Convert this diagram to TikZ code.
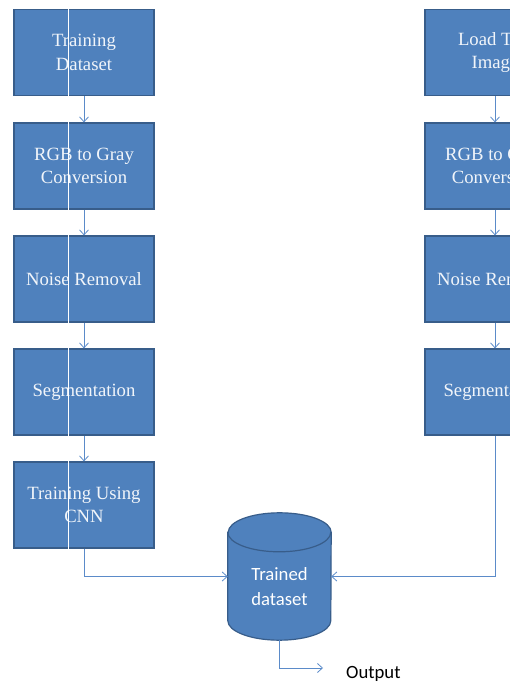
\documentclass[tikz,border=0pt]{standalone}
\usepackage{fontspec}
\setmainfont{Liberation Serif}
\newfontfamily\calibri{Carlito}
\usetikzlibrary{arrows.meta,positioning}
\definecolor{boxblue}{RGB}{79,129,189}
\definecolor{boxedge}{RGB}{56,93,138}
\definecolor{linkblue}{RGB}{91,139,201}
\tikzset{stepbox/.style={draw=boxedge, line width=1.2pt, fill=boxblue, minimum width=140pt, minimum height=86pt, inner sep=2pt, align=center, text=white!92!boxblue, font=\fontsize{18.7}{23.5}\selectfont}}
\tikzset{arr/.style={draw=linkblue, line width=0.8pt, -{Straight Barb[length=5pt,width=9pt]}}}
\tikzset{sanslabel/.style={inner sep=0pt, align=center, font=\calibri\fontsize{18.7}{25}\selectfont}}

\begin{document}
\begin{tikzpicture}[x=1pt,y=1pt]
	\useasboundingbox (0,0) rectangle (510,682);
	\clip (0,0) rectangle (510,682);
	
	% training column
	\node[stepbox] (train) at (84,629.5) {Training\\Dataset};
	\node[stepbox] (gray) at (84,516) {RGB to Gray\\Conversion};
	\node[stepbox] (noise) at (84,403) {Noise Removal};
	\node[stepbox] (seg) at (84,290) {Segmentation};
	\node[stepbox] (cnn) at (84,177) {Training Using\\CNN};
	\draw[white, line width=1pt] ([xshift=-16pt]train.north) -- ([xshift=-16pt]cnn.south);
	
	% testing column
	\node[stepbox] (load) at (495,629.5) {Load Test\\Image};
	\node[stepbox] (tgray) at (495,516) {RGB to Gray\\Conversion};
	\node[stepbox] (tnoise) at (495,403) {Noise Removal};
	\node[stepbox] (tseg) at (495,290) {Segmentation};
	
	% trained dataset
	\node[minimum width=103pt, minimum height=127pt, inner sep=0pt] (db) at (279.5,105.5) {};
	\path[fill=boxblue, draw=boxedge, line width=1.2pt] ([yshift=-19.5pt]db.north west) -- ([yshift=19.5pt]db.south west)
		arc[start angle=180, end angle=360, x radius=51.5pt, y radius=19.5pt] -- ([yshift=-19.5pt]db.north east)
		arc[start angle=0, end angle=180, x radius=51.5pt, y radius=19.5pt] -- cycle;
	\draw[boxedge, line width=1.2pt] ([yshift=-19.5pt]db.north west) arc[start angle=180, end angle=360, x radius=51.5pt, y radius=19.5pt];
	\node[sanslabel, text=white] (dbtext) at ([yshift=-10pt]db.center) {Trained\\dataset};
	
	\coordinate (out) at (323,14);
	\node[sanslabel, anchor=base west] (outtext) at (346,4) {Output};
	
	\begin{scope}[arr]
		\draw (train) -- (gray);
		\draw (gray) -- (noise);
		\draw (noise) -- (seg);
		\draw (seg) -- (cnn);
		\draw (load) -- (tgray);
		\draw (tgray) -- (tnoise);
		\draw (tnoise) -- (tseg);
		\draw (cnn.south) |- (db.west);
		\draw (tseg.south) |- (db.east);
		\draw (db.south) |- (out);
	\end{scope}
\end{tikzpicture}
\end{document}
